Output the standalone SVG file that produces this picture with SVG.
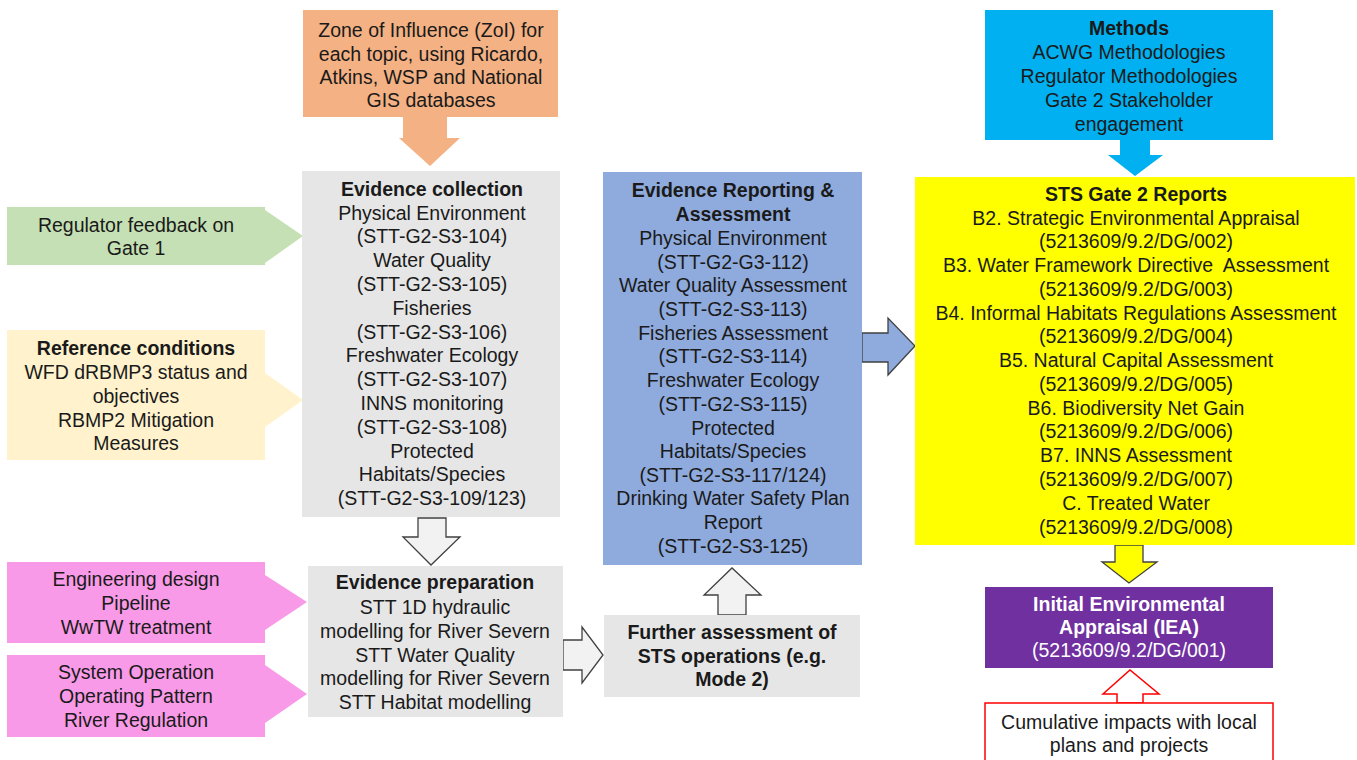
<svg xmlns="http://www.w3.org/2000/svg" width="1357" height="760" viewBox="0 0 1357 760">
<style>
text{font-family:"Liberation Sans",Arial,sans-serif;font-size:19.5px;fill:#1a1a1a;text-anchor:middle;dominant-baseline:central}
.b{font-weight:bold}
.w{fill:#ffffff}
.pre{white-space:pre}
.ga{fill:#f2f2f2;stroke:#404040;stroke-width:1.3}
</style>
<rect width="1357" height="760" fill="#ffffff"/>
<g id="connectors">
<polygon points="403,117 447,117 447,138 460,138 430,166 399,138 403,138" fill="#f4b183"/>
<polygon points="1120,140 1150,140 1150,155 1163,155 1135,176 1108,155 1120,155" fill="#00b0f0"/>
<polygon class="ga" points="418,518 446,518 446,537 460,537 431,565 403,537 418,537"/>
<polygon class="ga" points="563,640 582,640 582,627 603,655 582,683 582,670 563,670"/>
<polygon class="ga" points="718,615 718,595 704,595 732,568 761,595 746,595 746,615"/>
<polygon points="862,333 888,333 888,318 915,346 888,375 888,362 862,362" fill="#8faadc" stroke="#404040" stroke-width="1.3"/>
<polygon points="1115,545 1143,545 1143,562 1157,562 1129,583 1102,562 1115,562" fill="#ffff00" stroke="#404040" stroke-width="1.3"/>
<polygon points="1117,703 1117,694 1103,694 1130,670 1159,694 1143,694 1143,703" fill="#ffffff" stroke="#ff0000" stroke-width="1.5"/>
</g>
<g id="zoi">
<rect x="303" y="10" width="255" height="107" fill="#f4b183"/>
<text x="431" y="30">Zone of Influence (ZoI) for</text>
<text x="431" y="54">each topic, using Ricardo,</text>
<text x="431" y="77">Atkins, WSP and National</text>
<text x="431" y="100">GIS databases</text>
</g>
<g id="methods">
<rect x="985" y="10" width="288" height="130" fill="#00b0f0"/>
<text class="b" x="1129" y="28">Methods</text>
<text x="1129" y="52">ACWG Methodologies</text>
<text x="1129" y="76">Regulator Methodologies</text>
<text x="1129" y="100">Gate 2 Stakeholder</text>
<text x="1129" y="124">engagement</text>
</g>
<g id="regulator-feedback">
<polygon points="7,207 265,207 265,210 303,236 265,263 265,265 7,265" fill="#c5e0b4"/>
<text x="136" y="225">Regulator feedback on</text>
<text x="136" y="248">Gate 1</text>
</g>
<g id="reference-conditions">
<polygon points="7,330 265,330 265,373 303,400 265,427 265,460 7,460" fill="#fff2cc"/>
<text class="b" x="136" y="348">Reference conditions</text>
<text x="136" y="372">WFD dRBMP3 status and</text>
<text x="136" y="396">objectives</text>
<text x="136" y="420">RBMP2 Mitigation</text>
<text x="136" y="443">Measures</text>
</g>
<g id="engineering">
<polygon points="7,562 265,562 265,575 307,602 265,630 265,643 7,643" fill="#f99ae8"/>
<text x="136" y="579">Engineering design</text>
<text x="136" y="603">Pipeline</text>
<text x="136" y="627">WwTW treatment</text>
</g>
<g id="system-operation">
<polygon points="7,655 265,655 265,665 307,694 265,723 265,737 7,737" fill="#f99ae8"/>
<text x="136" y="672">System Operation</text>
<text x="136" y="696">Operating Pattern</text>
<text x="136" y="720">River Regulation</text>
</g>
<g id="evidence-collection">
<rect x="302" y="171" width="258" height="346" fill="#e6e6e6"/>
<text class="b" x="432" y="189">Evidence collection</text>
<text x="432" y="213">Physical Environment</text>
<text x="432" y="236">(STT-G2-S3-104)</text>
<text x="432" y="260">Water Quality</text>
<text x="432" y="284">(STT-G2-S3-105)</text>
<text x="432" y="308">Fisheries</text>
<text x="432" y="332">(STT-G2-S3-106)</text>
<text x="432" y="355">Freshwater Ecology</text>
<text x="432" y="379">(STT-G2-S3-107)</text>
<text x="432" y="403">INNS monitoring</text>
<text x="432" y="427">(STT-G2-S3-108)</text>
<text x="432" y="451">Protected</text>
<text x="432" y="474">Habitats/Species</text>
<text x="432" y="498">(STT-G2-S3-109/123)</text>
</g>
<g id="evidence-preparation">
<rect x="308" y="566" width="255" height="151" fill="#e6e6e6"/>
<text class="b" x="435" y="582">Evidence preparation</text>
<text x="435" y="607">STT 1D hydraulic</text>
<text x="435" y="631">modelling for River Severn</text>
<text x="435" y="655">STT Water Quality</text>
<text x="435" y="678">modelling for River Severn</text>
<text x="435" y="702">STT Habitat modelling</text>
</g>
<g id="further-assessment">
<rect x="604" y="615" width="256" height="82" fill="#e6e6e6"/>
<text class="b" x="732" y="632">Further assessment of</text>
<text class="b" x="732" y="656">STS operations (e.g.</text>
<text class="b" x="732" y="679">Mode 2)</text>
</g>
<g id="evidence-reporting">
<rect x="603" y="172" width="259" height="393" fill="#8faadc"/>
<text class="b" x="733" y="190">Evidence Reporting &amp;</text>
<text class="b" x="733" y="214">Assessment</text>
<text x="733" y="238">Physical Environment</text>
<text x="733" y="262">(STT-G2-G3-112)</text>
<text x="733" y="285">Water Quality Assessment</text>
<text x="733" y="309">(STT-G2-S3-113)</text>
<text x="733" y="333">Fisheries Assessment</text>
<text x="733" y="356">(STT-G2-S3-114)</text>
<text x="733" y="380">Freshwater Ecology</text>
<text x="733" y="404">(STT-G2-S3-115)</text>
<text x="733" y="428">Protected</text>
<text x="733" y="451">Habitats/Species</text>
<text x="733" y="475">(STT-G2-S3-117/124)</text>
<text x="733" y="498">Drinking Water Safety Plan</text>
<text x="733" y="522">Report</text>
<text x="733" y="546">(STT-G2-S3-125)</text>
</g>
<g id="gate2-reports">
<rect x="915" y="177" width="440" height="368" fill="#ffff00"/>
<text class="b" x="1136" y="194">STS Gate 2 Reports</text>
<text x="1136" y="218">B2. Strategic Environmental Appraisal</text>
<text x="1136" y="241">(5213609/9.2/DG/002)</text>
<text class="pre" x="1136" y="265">B3. Water Framework Directive  Assessment</text>
<text x="1136" y="289">(5213609/9.2/DG/003)</text>
<text x="1136" y="313">B4. Informal Habitats Regulations Assessment</text>
<text x="1136" y="336">(5213609/9.2/DG/004)</text>
<text x="1136" y="360">B5. Natural Capital Assessment</text>
<text x="1136" y="384">(5213609/9.2/DG/005)</text>
<text x="1136" y="408">B6. Biodiversity Net Gain</text>
<text x="1136" y="431">(5213609/9.2/DG/006)</text>
<text x="1136" y="455">B7. INNS Assessment</text>
<text x="1136" y="479">(5213609/9.2/DG/007)</text>
<text x="1136" y="503">C. Treated Water</text>
<text x="1136" y="527">(5213609/9.2/DG/008)</text>
</g>
<g id="iea">
<rect x="985" y="587" width="288" height="81" fill="#7030a0"/>
<text class="b w" x="1129" y="604">Initial Environmental</text>
<text class="b w" x="1129" y="627">Appraisal (IEA)</text>
<text class="w" x="1129" y="650">(5213609/9.2/DG/001)</text>
</g>
<g id="cumulative">
<rect x="985" y="703" width="288" height="70" fill="#ffffff" stroke="#ff0000" stroke-width="1.5"/>
<text x="1129" y="722">Cumulative impacts with local</text>
<text x="1129" y="745">plans and projects</text>
</g>
</svg>
